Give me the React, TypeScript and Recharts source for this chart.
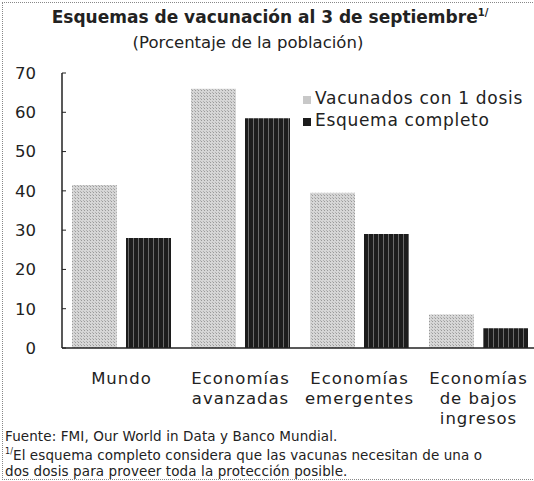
import { Bar, BarChart, XAxis, YAxis } from "recharts";

const categories = ["Mundo", "Economías avanzadas", "Economías emergentes", "Economías de bajos ingresos"];
const categoryLines = [["Mundo"], ["Economías", "avanzadas"], ["Economías", "emergentes"], ["Economías", "de bajos", "ingresos"]];
const unaDosis = [41.5, 66, 39.5, 8.5];
const esquemaCompleto = [28, 58.5, 29, 5];
const yTicks = [0, 10, 20, 30, 40, 50, 60, 70];
const seriesNames = ["Vacunados con 1 dosis", "Esquema completo"];

const data = categories.map((c, i) => ({
  name: c,
  unaDosis: unaDosis[i],
  completo: esquemaCompleto[i],
}));

const FONT = "'DejaVu Sans', sans-serif";

function CategoryTick(props: any) {
  const { x, y, payload } = props;
  const lines = categoryLines[payload.index] ?? [payload.value];
  return (
    <text x={x} y={y} textAnchor="middle" fontFamily={FONT} fontSize={16.5} letterSpacing={1} fill="#222">
      {lines.map((l: string, i: number) => (
        <tspan key={i} x={x} dy={i === 0 ? 28 : 20}>
          {l}
        </tspan>
      ))}
    </text>
  );
}

export default function App() {
  return (
    <div
      style={{
        position: "absolute",
        left: 0,
        top: 0,
        width: 534,
        height: 481,
        overflow: "hidden",
        background: "#fff",
        fontFamily: FONT,
        color: "#222",
      }}
    >
      <div
        style={{
          position: "absolute",
          left: 2,
          top: 2,
          width: 540,
          height: 476,
          borderLeft: "1px dotted #888",
          borderTop: "1px dotted #888",
          borderBottom: "1px dotted #888",
        }}
      />
      <div style={{ position: "absolute", left: 0, width: 540, top: 7, textAlign: "center", fontSize: 17, fontWeight: "bold" }}>
        Esquemas de vacunación al 3 de septiembre<sup style={{ fontSize: 10 }}>1/</sup>
      </div>
      <div style={{ position: "absolute", left: 0, width: 496, top: 33, textAlign: "center", fontSize: 16.5 }}>
        (Porcentaje de la población)
      </div>
      <BarChart
        width={538}
        height={481}
        data={data}
        margin={{ top: 73, right: 0, bottom: 103, left: 8 }}
        barSize={45}
        barGap={9}
      >
        <defs>
          <pattern id="stripes" width="5" height="4" patternUnits="userSpaceOnUse">
            <rect width="5" height="4" fill="#1c1c1c" />
            <rect x="3" width="1" height="4" fill="#6a6a6a" />
          </pattern>
          <pattern id="dots" width="3" height="3" patternUnits="userSpaceOnUse">
            <rect width="3" height="3" fill="#d6d6d6" />
            <rect width="1" height="1" fill="#9a9a9a" />
            <rect x="2" y="2" width="1" height="1" fill="#b0b0b0" />
          </pattern>
        </defs>
        <XAxis
          dataKey="name"
          interval={0}
          tick={<CategoryTick />}
          tickLine={false}
          axisLine={{ stroke: "#222", strokeWidth: 1.5 }}
        />
        <YAxis
          domain={[0, 70]}
          ticks={yTicks}
          width={54}
          tickSize={-4}
          tickMargin={30}
          tickLine={{ stroke: "#222" }}
          tick={{ fontSize: 16.5, fill: "#222", fontFamily: FONT }}
          axisLine={{ stroke: "#222", strokeWidth: 1.5 }}
        />
        <Bar dataKey="unaDosis" name={seriesNames[0]} fill="url(#dots)" isAnimationActive={false} />
        <Bar dataKey="completo" name={seriesNames[1]} fill="url(#stripes)" isAnimationActive={false} />
      </BarChart>
      <div style={{ position: "absolute", left: 303, top: 87, fontSize: 17, lineHeight: "22px", letterSpacing: 0.7 }}>
        <div>
          <span style={{ display: "inline-block", width: 8, height: 8, background: "#c8c8c8", marginRight: 4 }} />
          {seriesNames[0]}
        </div>
        <div>
          <span style={{ display: "inline-block", width: 8, height: 8, background: "#1c1c1c", marginRight: 4 }} />
          {seriesNames[1]}
        </div>
      </div>
      <div style={{ position: "absolute", left: 5, top: 428, fontSize: 13.5, lineHeight: "16px", letterSpacing: 0.1 }}>
        <div>Fuente: FMI, Our World in Data y Banco Mundial.</div>
        <div>
          <sup style={{ fontSize: 8 }}>1/</sup>El esquema completo considera que las vacunas necesitan de una o
        </div>
        <div>dos dosis para proveer toda la protección posible.</div>
      </div>
    </div>
  );
}
